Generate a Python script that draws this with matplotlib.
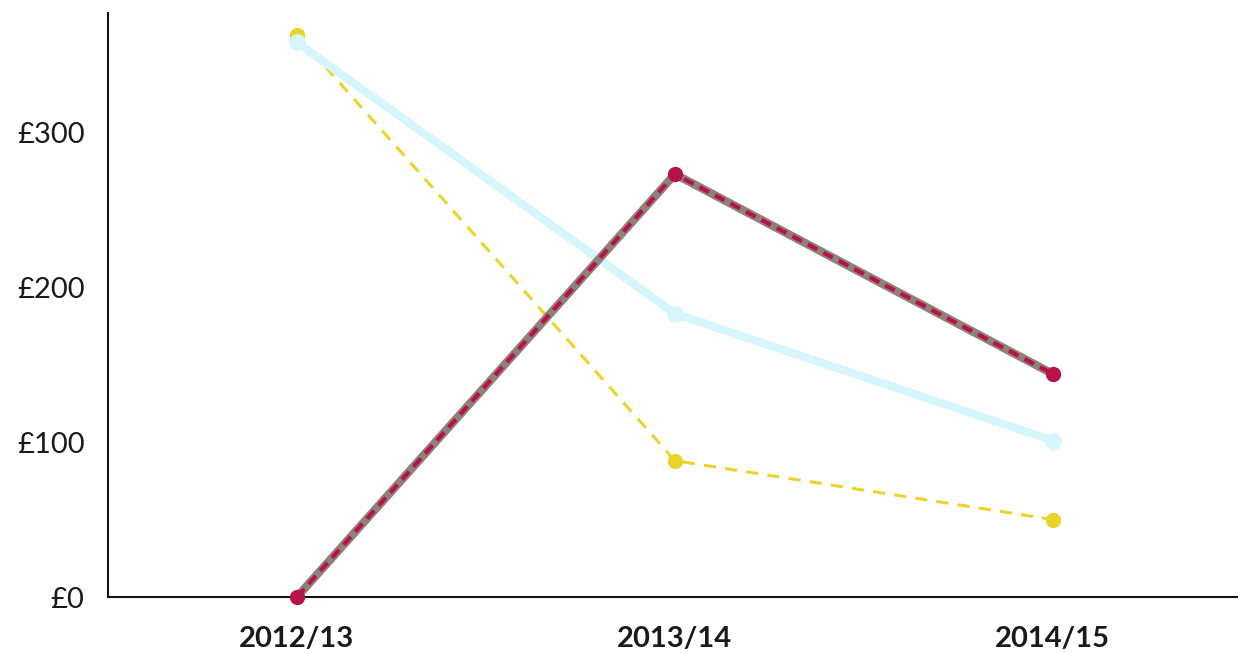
import matplotlib
matplotlib.use("Agg")
import matplotlib.pyplot as plt

categories = ["2012/13", "2013/14", "2014/15"]
yellow_vals = [363, 88, 50]
blue_vals = [358, 183, 101]
red_vals = [0, 273, 144]
yticks = [0, 100, 200, 300]
ytick_labels = ["£0", "£100", "£200", "£300"]

plt.rcParams['font.family'] = ['Lato', 'DejaVu Sans']

fig = plt.figure(figsize=(12.38, 6.53), dpi=100)
ax = fig.add_axes([108/1238, 56/653, 1 - 108/1238, (597-13)/653])

x = list(range(len(categories)))

ax.plot(x, yellow_vals, color="#ead42a", lw=2.2, ls=(0, (4, 3)), marker="o", ms=10, zorder=2)
ax.plot(x, blue_vals, color="#d6f5fc", lw=6, marker="o", ms=11, zorder=3, solid_capstyle="round")
ax.plot(x, red_vals, color="#8e8276", lw=6, zorder=4)
ax.plot(x, red_vals, color="#b8124a", lw=3, ls=(0, (2.6, 1.6)), marker="o", ms=10, zorder=5)

ax.set_xlim(-0.5, 2.49)
ax.set_ylim(0, 377)
ax.set_xticks(x)
ax.set_xticklabels(categories, fontsize=21, fontweight="bold", color="#1a1a1a")
ax.set_yticks(yticks)
ax.set_yticklabels(ytick_labels, fontsize=21, color="#1a1a1a")
ax.tick_params(axis="both", length=0)
ax.tick_params(axis="y", pad=17)
ax.tick_params(axis="x", pad=21)
for s in ["top", "right"]:
    ax.spines[s].set_visible(False)
ax.spines["left"].set_linewidth(1.5)
ax.spines["bottom"].set_linewidth(1.5)
ax.spines["left"].set_color("#111111")
ax.spines["bottom"].set_color("#111111")
for line in ax.lines:
    line.set_clip_on(False)

fig.savefig("out.png", dpi=100)
